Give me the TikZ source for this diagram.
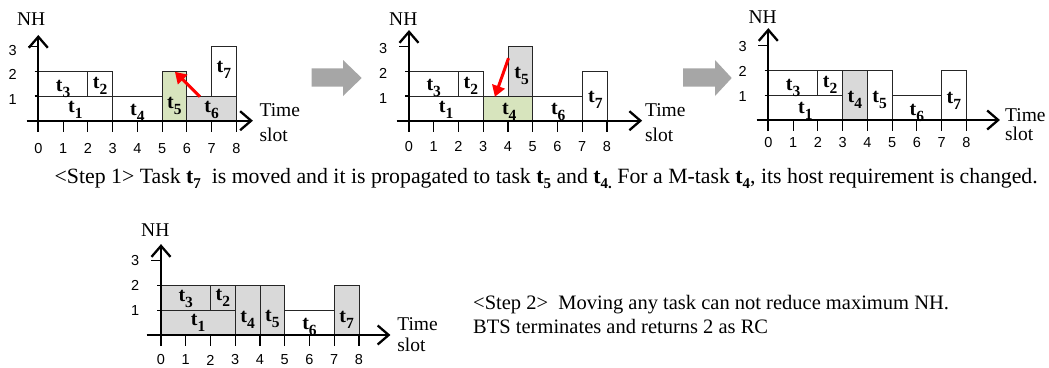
\documentclass[tikz,border=0pt]{standalone}
\usepackage{fontspec}
\setmainfont{Liberation Serif}
\newfontfamily\ticksans{Liberation Sans}
\usetikzlibrary{arrows.meta}
\definecolor{taskgreen}{HTML}{D7E4BD}
\definecolor{taskgray}{HTML}{D9D9D9}
\definecolor{bigarrow}{HTML}{A6A6A6}
\tikzset{
  box/.style={draw=black!85, line width=0.9pt},
  axisline/.style={line width=2.3pt, -{Straight Barb[length=11pt,width=19pt,line width=2.3pt]}},
  tickline/.style={line width=1.1pt},
  ticklab/.style={font=\ticksans\fontsize{14.5}{15}\selectfont, inner sep=0pt},
  tlab/.style={font=\fontsize{20}{20}\selectfont\bfseries, inner sep=0pt, anchor=base, yshift=-6.2pt},
  axlab/.style={font=\fontsize{19.5}{20}\selectfont, inner sep=0pt, anchor=base west},
  nhlab/.style={font=\fontsize{19.5}{20}\selectfont, inner sep=0pt, anchor=base},
  redarrow/.style={draw=red, line width=3pt, -{Triangle[length=11pt,width=13pt]}},
  fatarrow/.style={fill=bigarrow, draw=none},
  captext/.style={font=\fontsize{21.8}{22}\selectfont, inner sep=0pt},
}
\newcommand{\tk}[1]{t\raisebox{-6pt}{\fontsize{15.5}{15.5}\selectfont #1}}
\newcommand{\ctk}[1]{\textbf{t}\raisebox{-4.5pt}{\fontsize{15}{15}\selectfont\bfseries #1}}
% #1 prefix, #2 x start, #3 x tip, #4 y tip, #5 x-label y, #6 y-label dy
\newcommand{\chartaxes}[6]{%
  \foreach \i in {1,...,8} \draw[tickline] (\i,0) -- (\i,-0.45);
  \draw[tickline] (-0.4,3) -- (0,3);
  \draw[tickline] (-0.15,2) -- (0,2);
  \draw[tickline] (-0.15,1) -- (0,1);
  \foreach \i in {0,...,8} \node[ticklab] (#1x\i) at (\i,#5) {\i};
  \foreach \i in {1,2,3} \node[ticklab] (#1y\i) at (-1.04,\i+#6) {\i};
  \draw[axisline] (#2,0) -- (#3,0);
  \draw[axisline] (0,-0.45) -- (0,#4);
}
\begin{document}
\begin{tikzpicture}[x=1pt,y=-1pt]
\useasboundingbox (0,0) rectangle (1049,367);
\fill[white] (0,0) rectangle (1049,367);

% ---------------- Chart 1 ----------------
\begin{scope}[shift={(38.3,120.7)}, x=24.75pt, y=24.7pt]
  \draw[box] (0,0) rectangle (3,1);
  \draw[box] (0,1) rectangle (2,2);
  \draw[box] (2,1) rectangle (3,2);
  \draw[box] (3,0) rectangle (5,1);
  \draw[box, fill=taskgreen] (5,0) rectangle (6,2);
  \draw[box, fill=taskgray] (6,0) rectangle (8,1);
  \draw[box] (7,1) rectangle (8,3);
  \node[tlab] (a1) at (1.5,0.6) {\tk{1}};
  \node[tlab] (a3) at (1,1.45) {\tk{3}};
  \node[tlab] (a2) at (2.5,1.55) {\tk{2}};
  \node[tlab] (a4) at (4,0.47) {\tk{4}};
  \node[tlab] (a5) at (5.5,0.74) {\tk{5}};
  \node[tlab] (a6) at (7,0.6) {\tk{6}};
  \node[tlab] (a7) at (7.5,2.2) {\tk{7}};
  \chartaxes{a}{-0.47}{8.67}{3.47}{-1.12}{-0.14}
  \node[nhlab] (anh) at (-0.29,3.87) {NH};
  \node[axlab] (atime) at (8.93,0.16) {Time};
  \node[axlab] (aslot) at (8.93,-0.85) {slot};
  \coordinate (ara) at (6.53,0.97);
  \coordinate (arb) at (5.52,1.98);
  \draw[redarrow] (ara) -- (arb);
\end{scope}

% ---------------- big arrow 1 ----------------
\fill[fatarrow] (311.7,68.3) -- (343,68.3) -- (343,60) -- (361.7,78) -- (343,96) -- (343,86.7) -- (311.7,86.7) -- cycle;

% ---------------- Chart 2 ----------------
\begin{scope}[shift={(409,120.7)}, x=24.75pt, y=24.7pt]
  \draw[box] (0,0) rectangle (3,1);
  \draw[box] (0,1) rectangle (2,2);
  \draw[box] (2,1) rectangle (3,2);
  \draw[box, fill=taskgreen] (3,0) rectangle (5,1);
  \draw[box, fill=taskgray] (4,1) rectangle (5,3);
  \draw[box] (5,0) rectangle (7,1);
  \draw[box] (7,0) rectangle (8,2);
  \node[tlab] (b1) at (1.5,0.57) {\tk{1}};
  \node[tlab] (b3) at (1,1.48) {\tk{3}};
  \node[tlab] (b2) at (2.5,1.55) {\tk{2}};
  \node[tlab] (b4) at (4.05,0.5) {\tk{4}};
  \node[tlab] (b5) at (4.55,1.95) {\tk{5}};
  \node[tlab] (b6) at (6.03,0.5) {\tk{6}};
  \node[tlab] (b7) at (7.53,0.97) {\tk{7}};
  \chartaxes{b}{-0.5}{9.42}{3.67}{-1.05}{-0.09}
  \node[nhlab] (bnh) at (-0.23,3.87) {NH};
  \node[axlab] (btime) at (9.53,0.16) {Time};
  \node[axlab] (bslot) at (9.53,-0.85) {slot};
  \coordinate (bra) at (4.02,2.53);
  \coordinate (brb) at (3.47,0.97);
  \draw[redarrow] (bra) -- (brb);
\end{scope}

% ---------------- big arrow 2 ----------------
\fill[fatarrow] (683,68.3) -- (715,68.3) -- (715,60) -- (731.7,78) -- (715,96) -- (715,86.7) -- (683,86.7) -- cycle;

% ---------------- Chart 3 ----------------
\begin{scope}[shift={(768.3,120)}, x=24.75pt, y=24.7pt]
  \draw[box] (0,0) rectangle (3,1);
  \draw[box] (0,1) rectangle (2,2);
  \draw[box] (2,1) rectangle (3,2);
  \draw[box, fill=taskgray] (3,0) rectangle (4,2);
  \draw[box] (4,0) rectangle (5,2);
  \draw[box] (5,0) rectangle (7,1);
  \draw[box] (7,0) rectangle (8,2);
  \node[tlab] (c1) at (1.5,0.5) {\tk{1}};
  \node[tlab] (c3) at (1,1.46) {\tk{3}};
  \node[tlab] (c2) at (2.5,1.55) {\tk{2}};
  \node[tlab] (c4) at (3.5,0.94) {\tk{4}};
  \node[tlab] (c5) at (4.5,0.94) {\tk{5}};
  \node[tlab] (c6) at (6,0.45) {\tk{6}};
  \node[tlab] (c7) at (7.5,0.9) {\tk{7}};
  \chartaxes{c}{-0.47}{9.36}{3.72}{-0.91}{-0.03}
  \node[nhlab] (cnh) at (-0.23,3.91) {NH};
  \node[axlab] (ctime) at (9.56,-0.07) {Time};
  \node[axlab] (cslot) at (9.56,-0.81) {slot};
\end{scope}

% ---------------- caption step 1 ----------------
\node[captext, anchor=base east] (cap1) at (1038,183.5)
  {<Step 1> Task \ctk{7}\ \ is moved and it is propagated to task \ctk{5} and \ctk{4.} For a M-task \ctk{4}, its host requirement is changed.};

% ---------------- Chart 4 ----------------
\begin{scope}[shift={(161,335)}, x=24.75pt, y=24.7pt]
  \draw[box, fill=taskgray] (0,0) rectangle (3,1);
  \draw[box, fill=taskgray] (0,1) rectangle (2,2);
  \draw[box, fill=taskgray] (2,1) rectangle (3,2);
  \draw[box, fill=taskgray] (3,0) rectangle (4,2);
  \draw[box, fill=taskgray] (4,0) rectangle (5,2);
  \draw[box] (5,0) rectangle (7,1);
  \draw[box, fill=taskgray] (7,0) rectangle (8,2);
  \node[tlab] (d1) at (1.5,0.65) {\tk{1}};
  \node[tlab] (d3) at (1,1.59) {\tk{3}};
  \node[tlab] (d2) at (2.5,1.66) {\tk{2}};
  \node[tlab] (d4) at (3.5,0.74) {\tk{4}};
  \node[tlab] (d5) at (4.5,0.81) {\tk{5}};
  \node[tlab] (d6) at (6,0.47) {\tk{6}};
  \node[tlab] (d7) at (7.5,0.74) {\tk{7}};
  \chartaxes{d}{-0.58}{9.27}{3.68}{-1.01}{0}
  \node[nhlab] (dnh) at (-0.23,4.0) {NH};
  \node[axlab] (dtime) at (9.54,0.2) {Time};
  \node[axlab] (dslot) at (9.54,-0.68) {slot};
\end{scope}

% ---------------- caption step 2 ----------------
\node[captext, font=\fontsize{20.5}{21}\selectfont, anchor=base west] (cap2a) at (473,309)
  {<Step 2>\ \ Moving any task can not reduce maximum NH.};
\node[captext, font=\fontsize{20.5}{21}\selectfont, anchor=base west] (cap2b) at (473,333)
  {BTS terminates and returns 2 as RC};
\end{tikzpicture}
\end{document}
